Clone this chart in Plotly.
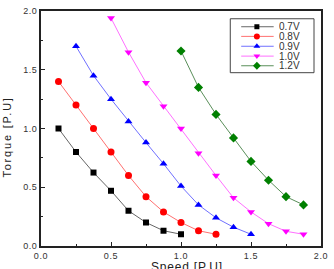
import plotly.graph_objects as go

x_07 = [0.125, 0.25, 0.375, 0.5, 0.625, 0.75, 0.875, 1.0]
y_07 = [1.0, 0.8, 0.625, 0.47, 0.3, 0.2, 0.13, 0.1]

x_08 = [0.125, 0.25, 0.375, 0.5, 0.625, 0.75, 0.875, 1.0, 1.125, 1.25]
y_08 = [1.4, 1.2, 1.0, 0.8, 0.6, 0.42, 0.29, 0.2, 0.13, 0.1]

x_09 = [0.25, 0.375, 0.5, 0.625, 0.75, 0.875, 1.0, 1.125, 1.25, 1.375, 1.5]
y_09 = [1.7, 1.45, 1.25, 1.06, 0.88, 0.7, 0.51, 0.35, 0.24, 0.16, 0.1]

x_10 = [0.5, 0.625, 0.75, 0.875, 1.0, 1.125, 1.25, 1.375, 1.5, 1.625, 1.75, 1.875]
y_10 = [1.94, 1.65, 1.39, 1.19, 1.0, 0.79, 0.6, 0.41, 0.29, 0.19, 0.125, 0.1]

x_12 = [1.0, 1.125, 1.25, 1.375, 1.5, 1.625, 1.75, 1.875]
y_12 = [1.66, 1.35, 1.12, 0.92, 0.72, 0.56, 0.42, 0.35]

names = ["0.7V", "0.8V", "0.9V", "1.0V", "1.2V"]
xs_all = [x_07, x_08, x_09, x_10, x_12]
ys_all = [y_07, y_08, y_09, y_10, y_12]
marker_colors = ["#000000", "#ff0000", "#0000ff", "#ff00ff", "#008000"]
line_colors = ["#666666", "#ff7070", "#7070ff", "#ff70ff", "#5a8f5a"]
symbols = ["square", "circle", "triangle-up", "triangle-down", "diamond"]
sizes = [6, 7, 7, 7, 7]

tick_vals = [0.0, 0.5, 1.0, 1.5, 2.0]
tick_text = ["0.0", "0.5", "1.0", "1.5", "2.0"]

FONT = "Liberation Sans, Arial, sans-serif"


def spaced(t, px):
    return '<span style="letter-spacing:%spx">%s</span>' % (px, t)


fig = go.Figure()
for name, xs, ys, mc, lc, sym, sz in zip(names, xs_all, ys_all, marker_colors,
                                          line_colors, symbols, sizes):
    fig.add_trace(go.Scatter(
        x=xs, y=ys, name=name, mode="lines+markers",
        line=dict(color=lc, width=1),
        marker=dict(color=mc, symbol=sym, size=sz, line=dict(width=0)),
        showlegend=False,
    ))

# custom compact legend (box, line samples, key markers, labels) in plot-area fractions
leg_x0, leg_x1, leg_top, leg_bot = 0.676, 0.975, 0.967, 0.7375
line_x0, line_x1, key_x, text_x = 0.715, 0.831, 0.771, 0.845
row_y = [0.933, 0.892, 0.850, 0.808, 0.767]

shapes = [dict(type="rect", xref="paper", yref="paper", x0=leg_x0, x1=leg_x1,
               y0=leg_bot, y1=leg_top, line=dict(color="#444444", width=1),
               fillcolor="white", layer="below")]
annotations = []
for i, name in enumerate(names):
    shapes.append(dict(type="line", xref="paper", yref="paper", x0=line_x0, x1=line_x1,
                       y0=row_y[i], y1=row_y[i], line=dict(color=line_colors[i], width=1),
                       layer="below"))
    annotations.append(dict(xref="paper", yref="paper", x=text_x, y=row_y[i],
                            xanchor="left", yanchor="middle", showarrow=False,
                            height=9, borderpad=0,
                            text=name, font=dict(family=FONT, size=10, color="#333333")))
    fig.add_trace(go.Scatter(
        x=[key_x], y=[row_y[i]], xaxis="x2", yaxis="y2", mode="markers",
        marker=dict(color=marker_colors[i], symbol=symbols[i], size=sizes[i] - 1,
                    line=dict(width=0)),
        showlegend=False, hoverinfo="skip", cliponaxis=False,
    ))

# axis titles
annotations.append(dict(xref="paper", yref="paper", x=0.521, y=-0.05,
                        xanchor="center", yanchor="top", showarrow=False,
                        text=spaced("Speed [P.U]", 0.8),
                        font=dict(family=FONT, size=12, color="#222222")))
annotations.append(dict(xref="paper", yref="paper", x=-0.12, y=0.463,
                        xanchor="center", yanchor="middle", showarrow=False, textangle=-90,
                        text=spaced("Torque [P.U]", 1.8),
                        font=dict(family=FONT, size=11, color="#222222")))

axis_common = dict(
    range=[0, 2.0], tickvals=tick_vals, ticktext=[spaced(t, 0.6) for t in tick_text],
    ticks="inside", ticklen=4, tickwidth=1, tickcolor="#222222",
    minor=dict(ticks="inside", ticklen=2, tickcolor="#222222", dtick=0.25, showgrid=False),
    showline=True, linecolor="#222222", linewidth=1.5, mirror=True,
    showgrid=False, zeroline=False,
    tickfont=dict(family=FONT, size=9, color="#333333"),
)

fig.update_layout(
    width=334, height=269,
    margin=dict(l=41, r=9, t=6, b=23),
    paper_bgcolor="white", plot_bgcolor="white",
    font=dict(family=FONT, size=9, color="#333333"),
    showlegend=False,
    xaxis=axis_common,
    yaxis=axis_common,
    xaxis2=dict(overlaying="x", range=[0, 1], visible=False, fixedrange=True),
    yaxis2=dict(overlaying="y", range=[0, 1], visible=False, fixedrange=True),
    shapes=shapes,
    annotations=annotations,
)

fig.write_html("out.html")
